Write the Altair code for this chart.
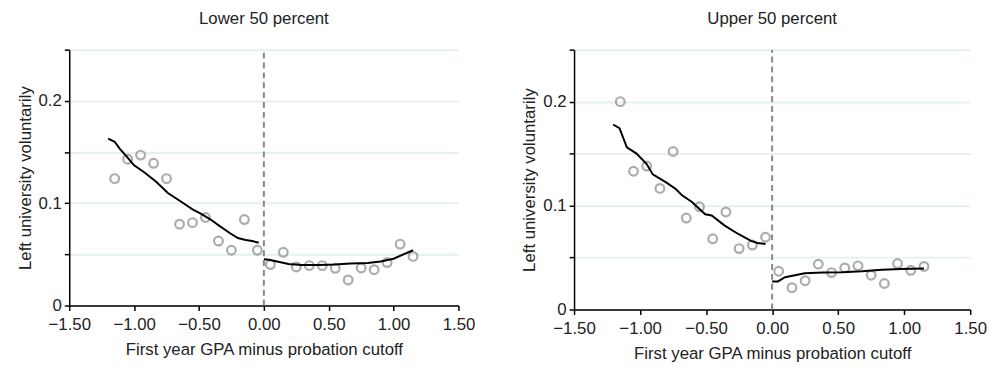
import altair as alt
import pandas as pd

# ---- data ----
bin_x = [-1.15, -1.05, -0.95, -0.85, -0.75, -0.65, -0.55, -0.45, -0.35, -0.25, -0.15, -0.05,
         0.05, 0.15, 0.25, 0.35, 0.45, 0.55, 0.65, 0.75, 0.85, 0.95, 1.05, 1.15]

lower_y = [0.124, 0.143, 0.147, 0.139, 0.124, 0.0795, 0.081, 0.086, 0.063, 0.054, 0.084, 0.054,
           0.040, 0.052, 0.0377, 0.039, 0.039, 0.0364, 0.025, 0.0367, 0.035, 0.042, 0.060, 0.048]
upper_y = [0.200, 0.133, 0.138, 0.1165, 0.152, 0.088, 0.0988, 0.068, 0.0938, 0.0586, 0.062, 0.0695,
           0.0368, 0.021, 0.0277, 0.0436, 0.0355, 0.040, 0.042, 0.033, 0.025, 0.0442, 0.0377, 0.0414]

lower_fit_left_x = [-1.20, -1.15, -1.11, -1.06, -1.00, -0.92, -0.83, -0.74, -0.64, -0.55, -0.49,
                    -0.41, -0.34, -0.26, -0.20, -0.14, -0.09, -0.04]
lower_fit_left_y = [0.163, 0.160, 0.153, 0.146, 0.137, 0.130, 0.121, 0.110, 0.1016, 0.094, 0.090,
                    0.084, 0.0776, 0.0706, 0.066, 0.064, 0.063, 0.0613]
lower_fit_right_x = [0.0, 0.04, 0.12, 0.19, 0.29, 0.43, 0.545, 0.67, 0.80, 0.90, 1.0, 1.076, 1.15]
lower_fit_right_y = [0.0453, 0.0447, 0.0425, 0.0405, 0.0396, 0.0396, 0.040, 0.041, 0.0415, 0.043,
                     0.0457, 0.050, 0.054]

upper_fit_left_x = [-1.205, -1.156, -1.10, -1.027, -0.95, -0.904, -0.80, -0.73, -0.68, -0.607,
                    -0.507, -0.458, -0.359, -0.26, -0.16, -0.112, -0.05]
upper_fit_left_y = [0.178, 0.1745, 0.156, 0.150, 0.140, 0.130, 0.122, 0.116, 0.1096, 0.1035,
                    0.0916, 0.0904, 0.0807, 0.0729, 0.066, 0.064, 0.063]
upper_fit_right_x = [0.0, 0.044, 0.098, 0.247, 0.384, 0.53, 0.68, 0.83, 0.977, 1.15]
upper_fit_right_y = [0.027, 0.027, 0.031, 0.0349, 0.0355, 0.0358, 0.0367, 0.0383, 0.039, 0.0395]

x_ticks = [-1.5, -1.0, -0.5, 0.0, 0.5, 1.0, 1.5]
y_ticks = [0, 0.05, 0.1, 0.15, 0.2, 0.25]

FONT = "Liberation Sans"
FS = 17

LABELLED = "(datum.value == 0 || datum.value == 0.1 || datum.value == 0.2)"


def panel(title, pts_y, lx, ly, rx, ry, w, h, toff):
    pts = pd.DataFrame({"x": bin_x, "y": pts_y})
    fit = pd.DataFrame({
        "x": lx + rx,
        "y": ly + ry,
        "side": ["left"] * len(lx) + ["right"] * len(rx),
        "order": list(range(len(lx) + len(rx))),
    })
    xs = alt.Scale(domain=[-1.5, 1.5], nice=False, zero=False)
    ys = alt.Scale(domain=[0, 0.25], nice=False)
    xaxis = alt.Axis(values=x_ticks, format=".2f", title="First year GPA minus probation cutoff",
                     grid=False, titlePadding=10, labelPadding=6, labelFlush=False,
                     labelOverlap=False)
    yaxis = alt.Axis(values=y_ticks, grid=True, title="Left university voluntarily",
                     labelExpr="datum.value == 0 ? '0' : (datum.value == 0.1 ? '0.1' : (datum.value == 0.2 ? '0.2' : ''))",
                     labelFontSize={"condition": {"test": LABELLED, "value": FS}, "value": 0.1},
                     titlePadding=4, labelPadding=3, labelFlush=False, labelOverlap=False)
    base = alt.Chart(pts)
    points = base.mark_point(shape="circle", filled=False, color="#8a8a8a", size=78,
                             strokeWidth=2.2).encode(
        x=alt.X("x:Q", scale=xs, axis=xaxis),
        y=alt.Y("y:Q", scale=ys, axis=yaxis),
    )
    cut = alt.Chart(pd.DataFrame({"x": [0.0], "y0": [0.0], "y1": [0.25]})).mark_rule(
        color="#888888", strokeDash=[6, 4], strokeWidth=2).encode(
        x=alt.X("x:Q", scale=xs), y=alt.Y("y0:Q", scale=ys), y2="y1:Q")
    lines = alt.Chart(fit).mark_line(color="black", strokeWidth=2).encode(
        x=alt.X("x:Q", scale=xs), y=alt.Y("y:Q", scale=ys),
        detail="side:N", order="order:Q")
    return alt.layer(cut, points, lines).properties(
        width=w, height=h,
        title=alt.TitleParams(title, fontSize=FS, fontWeight="normal", font=FONT,
                              color="#222222", offset=toff, frame="group"))


left = panel("Lower 50 percent", lower_y, lower_fit_left_x, lower_fit_left_y,
             lower_fit_right_x, lower_fit_right_y, 394, 259, 21)
right = panel("Upper 50 percent", upper_y, upper_fit_left_x, upper_fit_left_y,
              upper_fit_right_x, upper_fit_right_y, 401, 263, 21)

chart = alt.hconcat(left, right, spacing=46).properties(
    padding={"left": 8, "top": 0, "right": 0, "bottom": 0}).configure_view(
    stroke=None).configure_axis(
    domainColor="black", domainWidth=1.5, tickColor="black", tickSize=5, tickWidth=1.5,
    labelFont=FONT, labelFontSize=FS, labelColor="#222222",
    titleFont=FONT, titleFontSize=FS, titleFontWeight="normal", titleColor="#222222",
    gridColor="#e6eff2", gridWidth=2,
)

chart.save("out.html", embed_options={"renderer": "svg", "actions": False})
